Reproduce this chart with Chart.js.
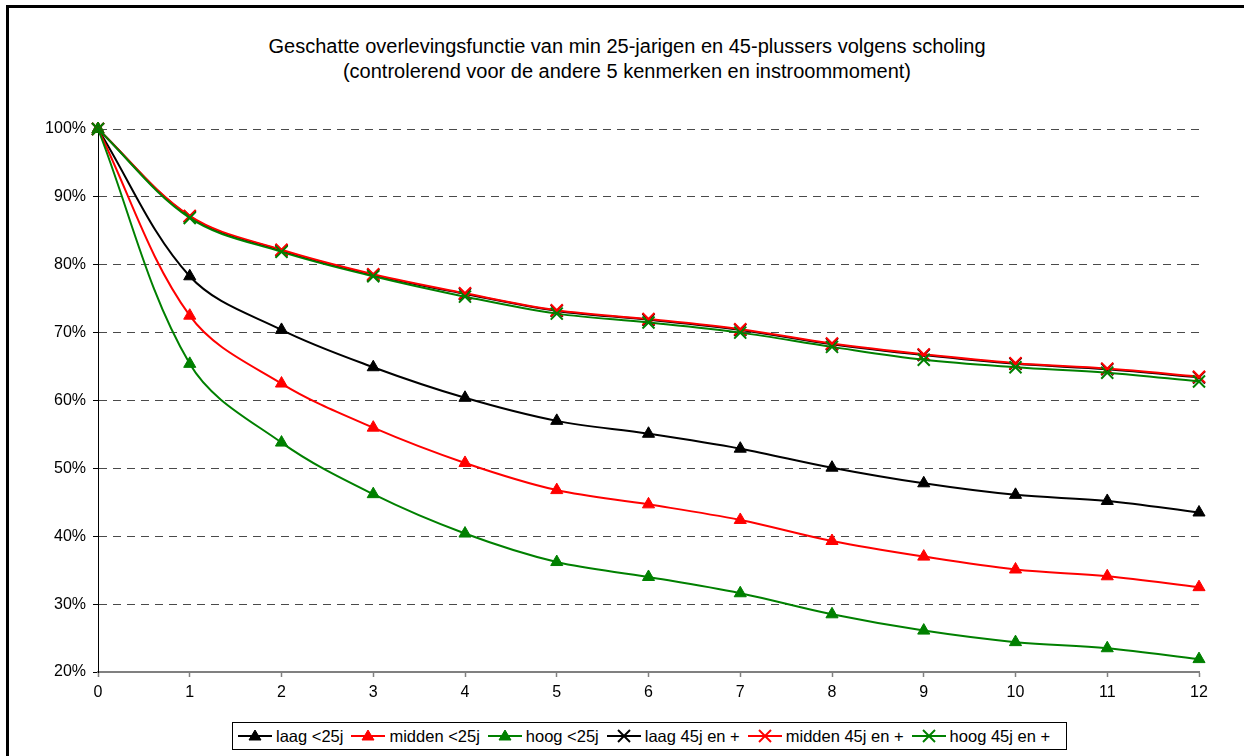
<!DOCTYPE html>
<html><head><meta charset="utf-8">
<script src="https://cdn.jsdelivr.net/npm/chart.js@4"></script>
<style>
html,body{margin:0;padding:0;background:#fff;width:1244px;height:756px;overflow:hidden;font-family:"Liberation Sans",Arial,sans-serif;}
#frame{position:absolute;left:6px;top:5px;width:1300px;height:800px;border-left:3px solid #000;border-top:3px solid #000;}
#title{position:absolute;left:0;top:34px;width:1254px;text-align:center;font-size:20px;line-height:25px;color:#000;}
#wrap{position:absolute;left:0;top:0;width:1244px;height:756px;}
#legend{position:absolute;left:232px;top:722px;width:833px;height:26px;border:1px solid #000;display:flex;align-items:center;padding-left:0;font-size:16.5px;background:#fff;color:#000;}
.item{display:flex;align-items:center;margin-left:5px;margin-right:3px;white-space:nowrap;}
.item svg{margin-right:4px;}
</style></head>
<body>
<div id="frame"></div>
<div id="title">Geschatte overlevingsfunctie van min 25-jarigen en 45-plussers volgens scholing<br>(controlerend voor de andere 5 kenmerken en instroommoment)</div>
<div id="wrap"><canvas id="c" width="1244" height="756"></canvas></div>
<div id="legend"></div>
<script>
// Data
const years = ['0','1','2','3','4','5','6','7','8','9','10','11','12'];
const yTickValues = [20,30,40,50,60,70,80,90,100];
const laag25 = [100,78.3,70.4,64.9,60.4,57.0,55.1,52.9,50.1,47.8,46.1,45.2,43.5];
const midden25 = [100,72.5,62.5,56.0,50.8,46.8,44.7,42.4,39.3,37.0,35.1,34.1,32.5];
const hoog25 = [100,65.4,53.8,46.2,40.4,36.2,34.0,31.6,28.5,26.1,24.4,23.5,21.9];
const laag45 = [100,87.1,82.1,78.5,75.7,73.2,71.9,70.4,68.3,66.7,65.4,64.6,63.4];
const midden45 = [100,87.2,82.2,78.6,75.8,73.3,72.0,70.5,68.4,66.8,65.5,64.7,63.5];
const hoog45 = [100,86.9,81.9,78.3,75.3,72.8,71.5,70.0,67.9,66.0,64.9,64.1,62.8];
const seriesNames = ['laag <25j','midden <25j','hoog <25j','laag 45j en +','midden 45j en +','hoog 45j en +'];
const seriesData = [laag25, midden25, hoog25, laag45, midden45, hoog45];

const colors = ['#000000','#ff0000','#008000','#000000','#ff0000','#008000'];
const markers = ['triangle','triangle','triangle','crossRot','crossRot','crossRot'];

const datasets = seriesData.map((d, i) => {
  const tri = markers[i] === 'triangle';
  return {
    label: seriesNames[i],
    data: d,
    borderColor: colors[i],
    backgroundColor: colors[i],
    borderWidth: 2,
    tension: 0.35,
    pointStyle: markers[i],
    pointRadius: tri ? 7 : 8.5,
    pointBorderWidth: tri ? 1 : 2,
    pointBackgroundColor: colors[i],
    pointBorderColor: colors[i],
    clip: false,
    order: seriesData.length - 1 - i
  };
});

new Chart(document.getElementById('c'), {
  type: 'line',
  data: { labels: years, datasets },
  options: {
    responsive: false,
    animation: false,
    devicePixelRatio: 1,
    layout: { padding: { left: 8, right: 45, top: 129, bottom: 54 } },
    plugins: { legend: { display: false }, title: { display: false }, tooltip: { enabled: false } },
    scales: {
      x: {
        type: 'category',
        offset: false,
        afterFit: s => { s.height = 30; },
        grid: { drawOnChartArea: false, drawTicks: true, tickLength: 5, tickColor: '#808080', tickWidth: 1.5, offset: false },
        border: { display: true, color: '#808080', width: 2 },
        ticks: { color: '#000', font: { family: '"Liberation Sans", Arial, sans-serif', size: 16 }, padding: 6, maxRotation: 0, autoSkip: false }
      },
      y: {
        min: 20, max: 100,
        afterFit: s => { s.width = 90; },
        afterBuildTicks: s => { s.ticks = yTickValues.map(v => ({ value: v })); },
        grid: { color: '#4a4a4a', lineWidth: 1, drawTicks: true, tickLength: 5, tickColor: '#000', tickWidth: 1, tickBorderDash: [] },
        border: { display: true, color: '#000', width: 1, dash: [8, 6] },
        ticks: { color: '#000', font: { family: '"Liberation Sans", Arial, sans-serif', size: 16 }, padding: 7, callback: v => v + '%' }
      }
    }
  }
});

// HTML legend built from the series names
const leg = document.getElementById('legend');
seriesNames.forEach((name, i) => {
  const item = document.createElement('div');
  item.className = 'item';
  const c = colors[i];
  let mk;
  if (markers[i] === 'triangle') {
    mk = `<polygon points="11,15 23,15 17,5" fill="${c}" stroke="${c}" stroke-width="1"/>`;
  } else {
    mk = `<line x1="11" y1="5" x2="23" y2="17" stroke="${c}" stroke-width="2"/><line x1="11" y1="17" x2="23" y2="5" stroke="${c}" stroke-width="2"/>`;
  }
  item.innerHTML = `<svg width="34" height="22" viewBox="0 0 34 22"><line x1="0" y1="11" x2="34" y2="11" stroke="${c}" stroke-width="2"/>${mk}</svg><span>${name.replace(/</g,'&lt;')}</span>`;
  leg.appendChild(item);
});
</script>
</body></html>
